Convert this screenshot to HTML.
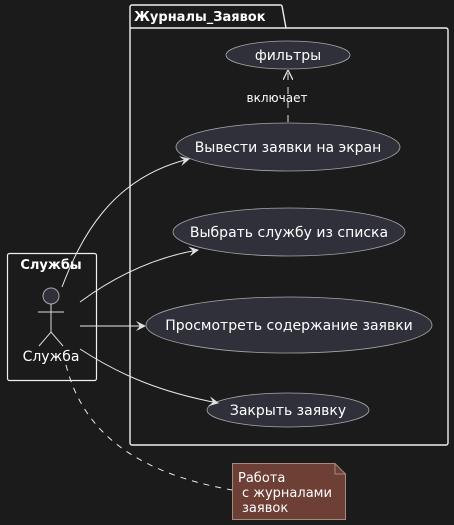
<!DOCTYPE html>
<html><head><meta charset="utf-8"><style>
html,body{margin:0;padding:0;background:#1b1b1b;}
svg{display:block;font-family:"DejaVu Sans","Liberation Sans",sans-serif;}
</style></head><body>
<svg width="454" height="525" viewBox="0 0 454 525" xmlns="http://www.w3.org/2000/svg">
<defs>
<marker id="a" viewBox="0 0 10 10" refX="9" refY="5" markerWidth="10" markerHeight="10" orient="auto" markerUnits="userSpaceOnUse">
<path d="M0,0 L10,5 L0,10 L4,5 Z" fill="#e0e0e0"/></marker>
<marker id="o" viewBox="0 0 10 10" refX="9" refY="5" markerWidth="10" markerHeight="10" orient="auto" markerUnits="userSpaceOnUse">
<path d="M0,0 L10,5 L0,10" fill="none" stroke="#e0e0e0" stroke-width="1.3"/></marker>
</defs>
<rect width="454" height="525" fill="#1b1b1b"/>
<path d="M133,5 H280 a2,2 0 0 1 2,1 L286,28 H446 a2,2 0 0 1 2,2 V443 a2,2 0 0 1 -2,2 H132 a2,2 0 0 1 -2,-2 V7 a2,2 0 0 1 2,-2 Z" fill="none" stroke="#f0f0f0" stroke-width="1.4"/>
<line x1="130" y1="28" x2="286" y2="28" stroke="#f0f0f0" stroke-width="1.4"/>
<text x="134" y="21" fill="#fff" font-size="13" font-weight="bold">Журналы_Заявок</text>
<g fill="#30303a" stroke="#a8a8a8" stroke-width="0.8">
<ellipse cx="288" cy="55" rx="62" ry="14"/>
<ellipse cx="288" cy="147" rx="112" ry="24"/>
<ellipse cx="289" cy="232" rx="116" ry="24"/>
<ellipse cx="289" cy="325" rx="143" ry="28"/>
<ellipse cx="288" cy="410" rx="81" ry="17"/>
</g>
<g fill="#fff" font-size="14" text-anchor="middle">
<text x="288" y="60">фильтры</text>
<text x="288" y="152">Вывести заявки на экран</text>
<text x="289" y="237">Выбрать службу из списка</text>
<text x="289" y="330">Просмотреть содержание заявки</text>
<text x="288" y="415">Закрыть заявку</text>
</g>
<line x1="288" y1="122" x2="288" y2="71" stroke="#e0e0e0" stroke-dasharray="7,7" marker-end="url(#o)"/>
<text x="277" y="102" fill="#fff" font-size="12" text-anchor="middle">включает</text>
<rect x="7.5" y="253.5" width="89" height="127" rx="2" fill="none" stroke="#f0f0f0" stroke-width="1.2"/>
<text x="51" y="269" fill="#fff" font-size="13" font-weight="bold" text-anchor="middle">Службы</text>
<circle cx="51" cy="296" r="8" fill="#30303a" stroke="#a8a8a8" stroke-width="1"/>
<g stroke="#d8d8d8" stroke-width="1" fill="none">
<line x1="51" y1="304" x2="51" y2="332"/>
<line x1="38" y1="312" x2="64" y2="312"/>
<path d="M39,346 L51,332 L63,346"/>
</g>
<text x="51" y="361" fill="#fff" font-size="14" text-anchor="middle">Служба</text>
<g stroke="#e8e8e8" stroke-width="1" fill="none">
<path d="M62,287 C80,240 110,178 189,159" marker-end="url(#a)"/>
<path d="M80,302 C110,280 150,258 198,250" marker-end="url(#a)"/>
<path d="M80,326 L145,326" marker-end="url(#a)"/>
<path d="M80,349 C120,375 160,392 218,403" marker-end="url(#a)"/>
<path d="M66,365 C80,420 120,470 232,490" stroke-dasharray="6,6"/>
</g>
<path d="M232.5,463.5 H335 L345.5,474 V519.5 H232.5 Z" fill="#6e3f35" stroke="#a08b80"/>
<path d="M335,463.5 V474 H345.5" fill="none" stroke="#a08b80"/>
<g fill="#fff" font-size="13">
<text x="238" y="482">Работа</text>
<text x="242" y="497">с журналами</text>
<text x="242" y="512">заявок</text>
</g>
</svg>
</body></html>
